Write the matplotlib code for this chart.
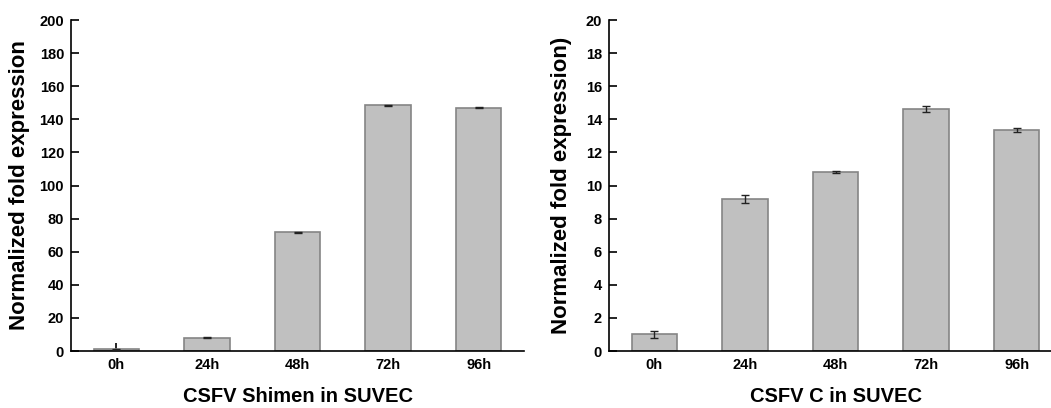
import matplotlib
matplotlib.use("Agg")
import matplotlib.pyplot as plt

plt.rcParams["font.family"] = ["Liberation Sans", "DejaVu Sans"]
plt.rcParams["font.weight"] = "bold"

time_points = ["0h", "24h", "48h", "72h", "96h"]

shimen_mean = [1.0, 8.0, 71.8, 148.4, 147.0]
shimen_err = [0.3, 0.3, 0.4, 0.3, 0.3]

c_mean = [1.0, 9.2, 10.8, 14.62, 13.35]
c_err = [0.2, 0.23, 0.05, 0.2, 0.1]

fig = plt.figure(figsize=(10.51, 4.08), dpi=100)
ax1 = fig.add_axes([0.0676, 0.1397, 0.431, 0.811])
ax2 = fig.add_axes([0.5795, 0.1397, 0.431, 0.811])


def draw_panel(ax, means, errs, ymax, ystep, xlabel, ylabel, ylab_x):
    x = range(len(time_points))
    ax.bar(x, means, width=0.5, color="#c0c0c0", edgecolor="#858585",
           linewidth=1.2, zorder=2)
    ax.errorbar(x, means, yerr=errs, fmt="none", ecolor="#222222",
                elinewidth=1, capsize=3, capthick=1, zorder=3)
    ax.set_xlim(-0.5, 4.5)
    ax.set_ylim(0, ymax)
    ax.set_yticks(range(0, ymax + 1, ystep))
    ax.set_xticks(list(x))
    ax.set_xticklabels(time_points)
    ax.spines["top"].set_visible(False)
    ax.spines["right"].set_visible(False)
    ax.spines["left"].set_linewidth(1.2)
    ax.spines["bottom"].set_linewidth(1.2)
    ax.tick_params(direction="in", length=6, width=1.2, labelsize=10.5, pad=5)
    ax.set_xlabel(xlabel, fontsize=14.5, fontweight="bold", labelpad=11)
    ax.set_ylabel(ylabel, fontsize=16, fontweight="bold")
    ax.yaxis.set_label_coords(ylab_x, 0.5)


draw_panel(ax1, shimen_mean, shimen_err, 200, 20,
           "CSFV Shimen in SUVEC", "Normalized fold expression", -0.09)
draw_panel(ax2, c_mean, c_err, 20, 2,
           "CSFV C in SUVEC", "Normalized fold expression)", -0.082)

fig.savefig("out.png", dpi=100)
plt.close(fig)
